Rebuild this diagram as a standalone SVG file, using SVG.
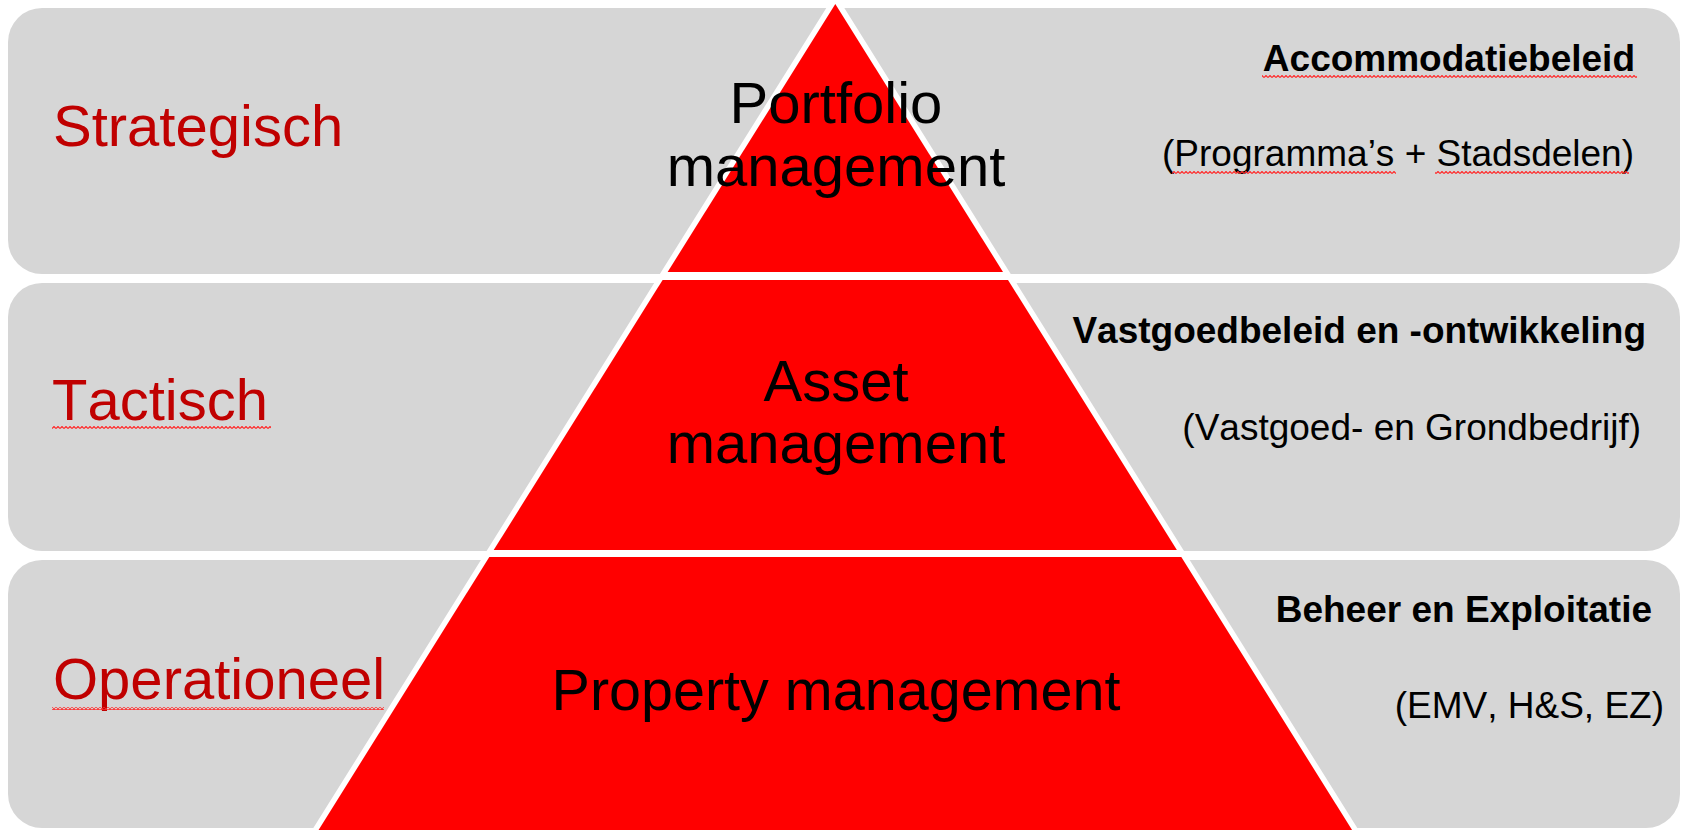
<svg xmlns="http://www.w3.org/2000/svg" width="1684" height="830" viewBox="0 0 1684 830">
  <style>
    text { font-kerning: none; }
    .band { fill: #D6D6D6; }
    .seg { fill: #FF0000; stroke: #FFFFFF; stroke-width: 11; stroke-linejoin: miter; paint-order: stroke; }
    .lvl { font-family: "Liberation Sans", Arial, sans-serif; font-size: 58px; fill: #C00000; }
    .mid { font-family: "Liberation Sans", Arial, sans-serif; font-size: 58px; fill: #000000; text-anchor: middle; }
    .hd { font-family: "Liberation Sans", Arial, sans-serif; font-size: 37px; font-weight: bold; fill: #000000; text-anchor: end; }
    .sub { font-family: "Liberation Sans", Arial, sans-serif; font-size: 37px; fill: #000000; text-anchor: end; }
    .squig { fill: url(#wave); }
  </style>
  <defs>
    <pattern id="wave" x="0" y="0" width="4" height="3" patternUnits="userSpaceOnUse">
      <path d="M0,2.5 L2,0.5 L4,2.5" fill="none" stroke="#FF2A2A" stroke-width="1.2"/>
    </pattern>
  </defs>
  <rect width="1684" height="830" fill="#FFFFFF"/>

  <g id="band-strategisch">
    <rect class="band" x="8" y="8" width="1672" height="266" rx="34" ry="34"/>
  </g>
  <g id="band-tactisch">
    <rect class="band" x="8" y="283" width="1672" height="268" rx="34" ry="34"/>
  </g>
  <g id="band-operationeel">
    <rect class="band" x="8" y="560" width="1672" height="268" rx="34" ry="34"/>
  </g>

  <g id="pyramid-portfolio">
    <polygon class="seg" points="835.3,4 1003,272 667.6,272"/>
    <text class="mid" x="836" y="123">Portfolio</text>
    <text class="mid" x="836" y="186">management</text>
  </g>
  <g id="pyramid-asset">
    <polygon class="seg" points="662.6,280 1008,280 1176.9,550 493.7,550"/>
    <text class="mid" x="836" y="401">Asset</text>
    <text class="mid" x="836" y="463">management</text>
  </g>
  <g id="pyramid-property">
    <polygon class="seg" points="489.3,557 1181.3,557 1358.3,840 312.3,840"/>
    <text class="mid" x="836" y="710" style="font-size:57.5px">Property management</text>
  </g>

  <g id="label-strategisch">
    <text class="lvl" x="53" y="146">Strategisch</text>
  </g>
  <g id="label-tactisch">
    <text class="lvl" x="52" y="420">Tactisch</text>
    <rect class="squig" x="52" y="426" width="219" height="3"/>
  </g>
  <g id="label-operationeel">
    <text class="lvl" x="53" y="699">Operationeel</text>
    <rect class="squig" x="52" y="707" width="332" height="3"/>
  </g>

  <g id="desc-strategisch">
    <text class="hd" x="1635" y="71">Accommodatiebeleid</text>
    <rect class="squig" x="1262" y="75" width="375" height="3"/>
    <text class="sub" x="1634" y="166">(Programma’s + Stadsdelen)</text>
    <rect class="squig" x="1172" y="171" width="224" height="3"/>
    <rect class="squig" x="1435" y="171" width="194" height="3"/>
  </g>
  <g id="desc-tactisch">
    <text class="hd" x="1646" y="343">Vastgoedbeleid en -ontwikkeling</text>
    <text class="sub" x="1641" y="440">(Vastgoed- en Grondbedrijf)</text>
  </g>
  <g id="desc-operationeel">
    <text class="hd" x="1652" y="622">Beheer en Exploitatie</text>
    <text class="sub" x="1664" y="718">(EMV, H&amp;S, EZ)</text>
  </g>

  <g id="connectors"></g>
</svg>
